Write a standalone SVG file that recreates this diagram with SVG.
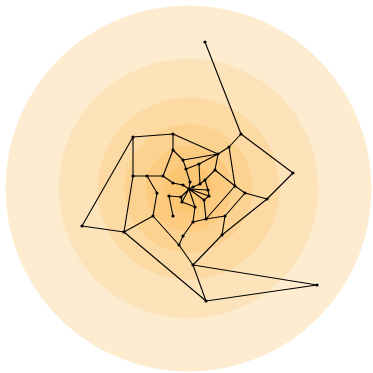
<svg xmlns="http://www.w3.org/2000/svg" width="373" height="373" viewBox="0 0 373 373">
<style>
.e{stroke:#000;stroke-width:1.1;fill:none}
.n{fill:#000}
</style>
<rect width="373" height="373" fill="#fff"/>
<g id="rings">
<circle cx="188.5" cy="188.5" r="183" fill="#FEECD0"/>
<circle cx="188.5" cy="188.5" r="130" fill="#FDE3BA"/>
<circle cx="188.5" cy="188.5" r="91" fill="#FDDAA3"/>
<circle cx="188.5" cy="188.5" r="64" fill="#FCD290"/>
<circle cx="188.5" cy="188.5" r="43" fill="#FCCB80"/>
<circle cx="188.5" cy="188.5" r="24" fill="#FBC572"/>
</g>
<g id="edges" class="e">
<path d="M205,42L241,134M241,134L293,173M241,134L229,147M229,147L218,154M229,147L235,186"/>
<path d="M173,134L133,137M173,134L173,150M173,134L218,154M133,137L133,176M133,137L82,226"/>
<path d="M173,150L183,160M173,150L163,176M183,160L218,154M183,160L186,169M186,169L199,164M199,164L218,154"/>
<path d="M218,154L215,170M215,170L235,186M235,186L245,193M245,193L267,199M267,199L293,173"/>
<path d="M267,199L222,235M222,235L193,265M245,193L225,216M225,216L222,235M235,186L206,219M206,219L225,216"/>
<path d="M82,226L124,232M124,232L133,176M124,232L153,216M124,232L206,301"/>
<path d="M133,176L147,176M147,176L163,176M147,176L157,193M157,193L153,216M163,176L173,183"/>
<path d="M153,216L179,245M179,245L183,236M183,236L193,222M193,222L206,219M179,245L193,265"/>
<path d="M193,265L317,285M317,285L206,301M206,301L193,265"/>
<path d="M169,196L173,216M169,196L181,197"/>
<path d="M186,169L190,182M190,182L189,189M173,183L183,185M183,185L189,189M189,189L181,197M181,197L182,202M182,202L189,189"/>
<path d="M189,189L193,187M193,187L200,184M200,184L205,180M205,180L215,170M199,164L200,184"/>
<path d="M205,180L208,190M208,190L209,196M209,196L204,200M204,200L206,219M189,189L208,190M189,189L209,196M189,189L204,200"/>
<path d="M189,189L195,207M195,207L193,222M182,202L195,207"/>
</g>
<g id="nodes" class="n">
<circle id="n1" cx="205" cy="42" r="1.6"/>
<circle id="n2" cx="241" cy="134" r="1.6"/>
<circle id="n3" cx="133" cy="137" r="1.6"/>
<circle id="n4" cx="173" cy="134" r="1.6"/>
<circle id="n5" cx="229" cy="147" r="1.6"/>
<circle id="n6" cx="218" cy="154" r="1.6"/>
<circle id="n7" cx="173" cy="150" r="1.6"/>
<circle id="n8" cx="183" cy="160" r="1.6"/>
<circle id="n9" cx="199" cy="164" r="1.6"/>
<circle id="n10" cx="186" cy="169" r="1.6"/>
<circle id="n11" cx="293" cy="173" r="1.6"/>
<circle id="n12" cx="215" cy="170" r="1.6"/>
<circle id="n13" cx="235" cy="186" r="1.6"/>
<circle id="n14" cx="245" cy="193" r="1.6"/>
<circle id="n15" cx="267" cy="199" r="1.6"/>
<circle id="n16" cx="82" cy="226" r="1.6"/>
<circle id="n17" cx="124" cy="232" r="1.6"/>
<circle id="n18" cx="133" cy="176" r="1.6"/>
<circle id="n19" cx="147" cy="176" r="1.6"/>
<circle id="n20" cx="163" cy="176" r="1.6"/>
<circle id="n21" cx="157" cy="193" r="1.6"/>
<circle id="n22" cx="153" cy="216" r="1.6"/>
<circle id="n23" cx="173" cy="183" r="1.6"/>
<circle id="n24" cx="169" cy="196" r="1.6"/>
<circle id="n25" cx="173" cy="216" r="1.6"/>
<circle id="n26" cx="193" cy="222" r="1.6"/>
<circle id="n27" cx="183" cy="236" r="1.6"/>
<circle id="n28" cx="179" cy="245" r="1.6"/>
<circle id="n29" cx="206" cy="219" r="1.6"/>
<circle id="n30" cx="225" cy="216" r="1.6"/>
<circle id="n31" cx="222" cy="235" r="1.6"/>
<circle id="n32" cx="193" cy="265" r="1.6"/>
<circle id="n33" cx="317" cy="285" r="1.6"/>
<circle id="n34" cx="206" cy="301" r="1.6"/>
<circle id="n35" cx="189" cy="189" r="1.6"/>
<circle id="n36" cx="183" cy="185" r="1.6"/>
<circle id="n37" cx="193" cy="187" r="1.6"/>
<circle id="n38" cx="200" cy="184" r="1.6"/>
<circle id="n39" cx="205" cy="180" r="1.6"/>
<circle id="n40" cx="208" cy="190" r="1.6"/>
<circle id="n41" cx="209" cy="196" r="1.6"/>
<circle id="n42" cx="204" cy="200" r="1.6"/>
<circle id="n43" cx="182" cy="202" r="1.6"/>
<circle id="n44" cx="181" cy="197" r="1.6"/>
<circle id="n45" cx="190" cy="182" r="1.6"/>
<circle id="n46" cx="195" cy="207" r="1.6"/>
</g>
</svg>
